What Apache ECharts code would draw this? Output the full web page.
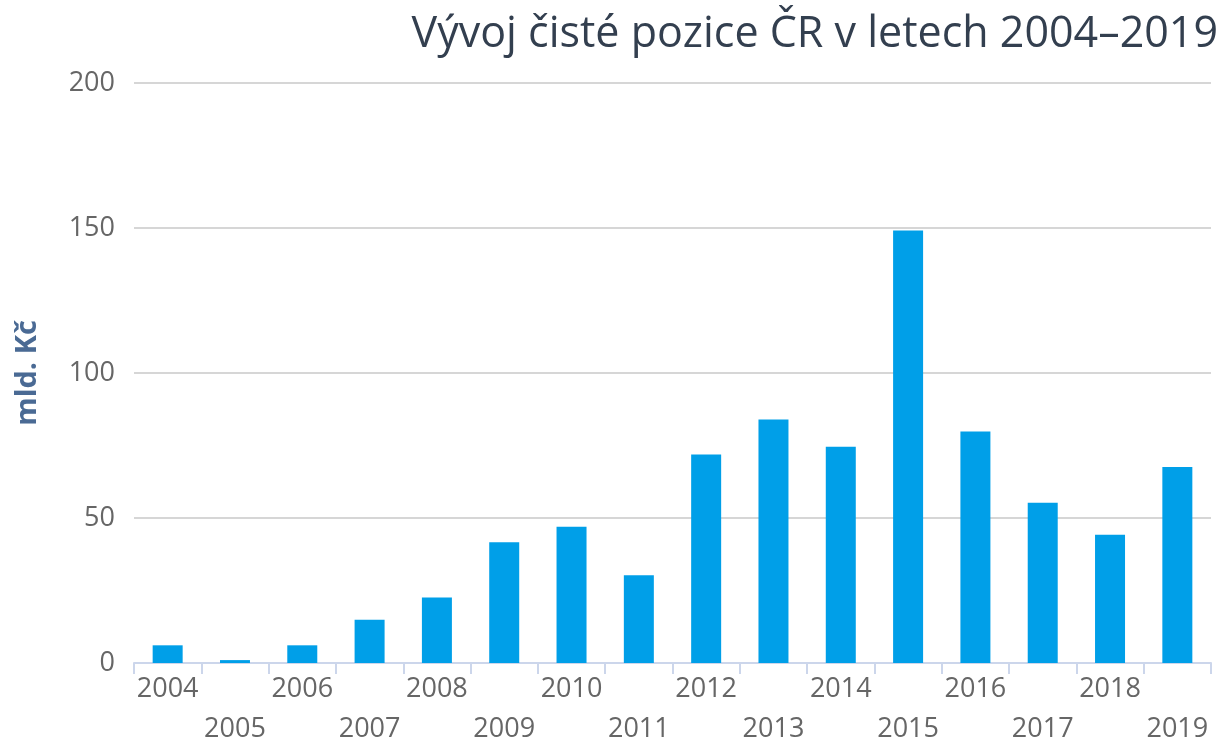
<!DOCTYPE html>
<html>
<head>
<meta charset="utf-8">
<script src="https://cdn.jsdelivr.net/npm/echarts@6/dist/echarts.min.js"></script>
<style>
  html, body { margin: 0; padding: 0; background: #fff; }
  #chart-box { width: 1227px; height: 742px; }
</style>
</head>
<body>
<div id="chart-box"></div>
<script>
// roky a čistá pozice (mld. Kč)
var years = ['2004','2005','2006','2007','2008','2009','2010','2011','2012','2013','2014','2015','2016','2017','2018','2019'];
var values = [6.1, 1.0, 6.1, 14.9, 22.6, 41.6, 47.0, 30.3, 71.9, 84.0, 74.6, 149.1, 79.8, 55.3, 44.2, 67.6];
var yTicks = { min: 0, max: 200, interval: 50 };

var labelFont = { fontFamily: 'Open Sans', fontSize: 27, color: '#666666' };

echarts.init(document.getElementById('chart-box')).setOption({
    animation: false,
    textStyle: { fontFamily: 'Open Sans' },
    title: {
        text: 'Vývoj čisté pozice ČR v letech 2004–2019',
        right: 4,
        top: 8,
        textStyle: { fontFamily: 'Open Sans', fontSize: 43, fontWeight: 'normal', color: '#333f4f' }
    },
    grid: { left: 134, right: 16, top: 83, bottom: 79, outerBoundsMode: 'none', containLabel: false },
    xAxis: {
        type: 'category',
        data: years,
        boundaryGap: true,
        axisLine: { lineStyle: { color: '#ccd6eb', width: 2 } },
        axisTick: { show: true, length: 11, lineStyle: { color: '#ccd6eb', width: 2 } },
        axisLabel: {
            interval: 0,
            margin: 6,
            fontFamily: labelFont.fontFamily,
            fontSize: labelFont.fontSize,
            color: labelFont.color,
            lineHeight: 40,
            formatter: function (val, idx) {
                return idx % 2 === 0 ? val : '\n' + val;
            }
        },
        splitLine: { show: false }
    },
    yAxis: {
        type: 'value',
        min: yTicks.min,
        max: yTicks.max,
        interval: yTicks.interval,
        name: 'mld. Kč',
        nameLocation: 'middle',
        nameRotate: 90,
        nameGap: 92,
        nameTextStyle: { fontFamily: 'Open Sans', fontSize: 29, fontWeight: 'bold', color: '#4a6a94' },
        axisLine: { show: false },
        axisTick: { show: false },
        axisLabel: {
            margin: 19,
            fontFamily: labelFont.fontFamily,
            fontSize: labelFont.fontSize,
            color: labelFont.color
        },
        splitLine: { show: true, lineStyle: { color: '#d6d6d6', width: 2 } }
    },
    series: [{
        name: 'Čistá pozice',
        type: 'bar',
        data: values,
        barWidth: 30,
        itemStyle: { color: '#009fe8' }
    }]
});
</script>
</body>
</html>
